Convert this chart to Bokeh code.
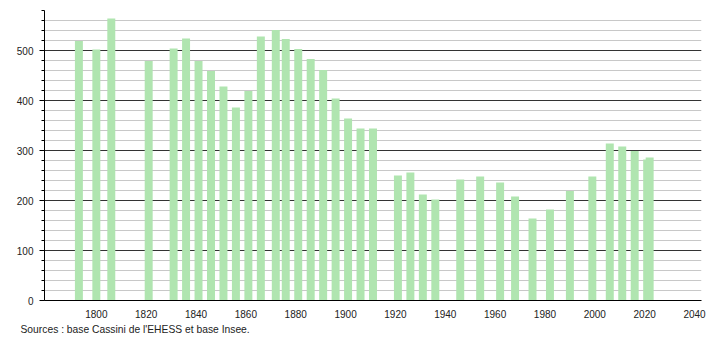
from bokeh.plotting import figure
from bokeh.models import FixedTicker, Title, Range1d, ColumnDataSource
from bokeh.embed import file_html
from bokeh.resources import INLINE

years = [1793, 1800, 1806, 1821, 1831, 1836, 1841, 1846, 1851, 1856, 1861, 1866,
         1872, 1876, 1881, 1886, 1891, 1896, 1901, 1906, 1911, 1921, 1926, 1931,
         1936, 1946, 1954, 1962, 1968, 1975, 1982, 1990, 1999, 2006, 2011, 2016,
         2021, 2022]
population = [519, 502, 564, 479, 504, 524, 479, 459, 428, 386, 419, 528,
              541, 523, 503, 483, 461, 404, 364, 344, 344, 250, 256, 212,
              202, 242, 248, 236, 208, 164, 182, 219, 248, 314, 308, 299,
              282, 286]
x_ticks = [1800, 1820, 1840, 1860, 1880, 1900, 1920, 1940, 1960, 1980, 2000, 2020, 2040]
y_ticks = [0, 100, 200, 300, 400, 500]
y_minor = list(range(0, 581, 20))
source_text = "Sources : base Cassini de l'EHESS et base Insee."

src = ColumnDataSource(dict(x=years, top=population))

p = figure(width=710, height=340, output_backend="svg", toolbar_location=None,
           x_range=Range1d(1779.2, 2042.8), y_range=Range1d(0, 580),
           min_border_left=44, min_border_right=9, min_border_top=10, min_border_bottom=40)
p.outline_line_color = None
p.background_fill_color = "white"
p.border_fill_color = "white"

p.vbar(x="x", top="top", width=3.2, bottom=0, source=src,
       fill_color="#b0e5b0", line_color=None)

font = "Liberation Sans"
# y axis
p.yaxis.ticker = FixedTicker(ticks=y_ticks, minor_ticks=y_minor)
p.yaxis.axis_line_color = "black"
p.yaxis.major_tick_line_color = "black"
p.yaxis.minor_tick_line_color = "black"
p.yaxis.major_tick_out = 5
p.yaxis.major_tick_in = 0
p.yaxis.minor_tick_out = 3
p.yaxis.minor_tick_in = 0
p.yaxis.major_label_text_font = font
p.yaxis.major_label_text_font_size = "10px"
p.yaxis.major_label_text_color = "#222222"
p.yaxis.major_label_standoff = 6

# x axis
p.xaxis.ticker = FixedTicker(ticks=x_ticks, minor_ticks=[])
p.xaxis.axis_line_color = "black"
p.xaxis.major_tick_line_color = None
p.xaxis.minor_tick_line_color = None
p.xaxis.major_label_text_font = font
p.xaxis.major_label_text_font_size = "10px"
p.xaxis.major_label_text_color = "#222222"
p.xaxis.major_label_standoff = 3

# grids
p.xgrid.grid_line_color = None
p.ygrid.ticker = FixedTicker(ticks=y_ticks, minor_ticks=y_minor)
p.ygrid.grid_line_color = "#333333"
p.ygrid.grid_line_width = 1
p.ygrid.minor_grid_line_color = "#c8c8c8"
p.ygrid.minor_grid_line_width = 1

src_title = Title(text=source_text, align="left", offset=-24,
                  text_font=font, text_font_size="10.3px", text_color="#222222",
                  text_font_style="normal", standoff=3)
p.add_layout(src_title, "below")

open("out.html", "w").write(file_html(p, INLINE))
